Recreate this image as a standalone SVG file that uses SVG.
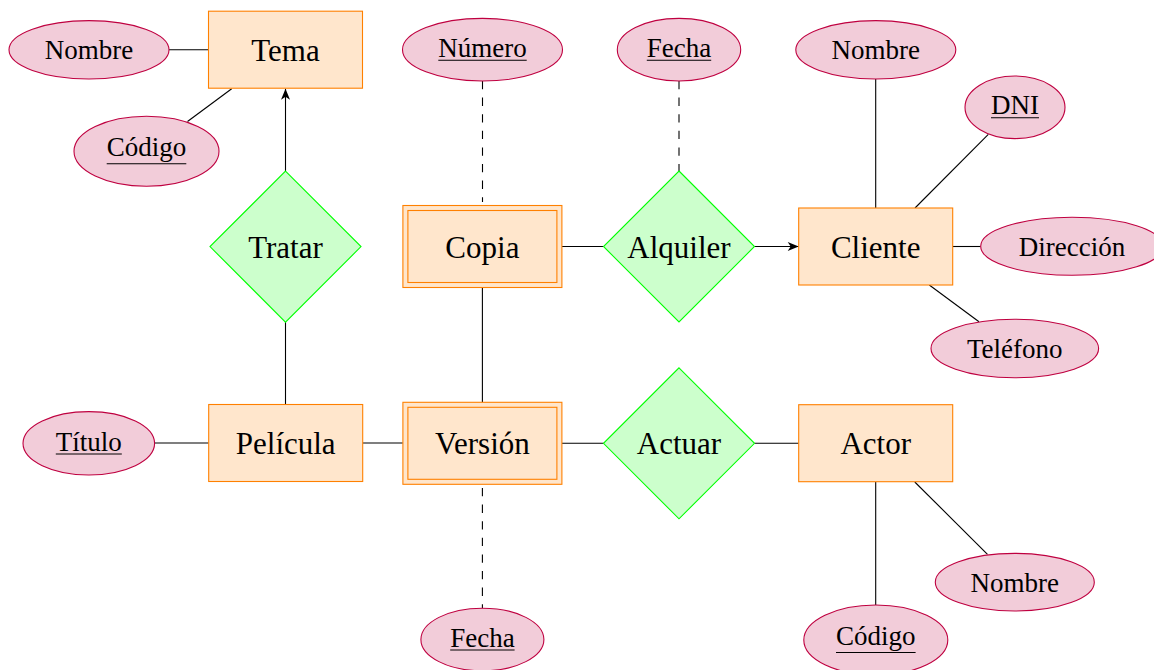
<svg xmlns="http://www.w3.org/2000/svg" width="1154" height="670" viewBox="0 0 1154 670">
<defs>
<style>
.ent rect{fill:#FFE6CC;stroke:#FF8000;stroke-width:1.1}
.rel polygon{fill:#CCFFCC;stroke:#00FF00;stroke-width:1.1}
.att ellipse{fill:#F2CCD9;stroke:#BF0040;stroke-width:1.1}
text{font-family:"Liberation Serif","Times New Roman",serif;fill:#000;text-anchor:middle}
.big{font-size:31px}
.small{font-size:27px}
.ul{stroke:#000;stroke-width:1.1}
#connectors line{stroke:#000;stroke-width:1.1;fill:none}
#connectors .dash{stroke-dasharray:8.3 8.3}
</style>
<marker id="arr" markerUnits="userSpaceOnUse" viewBox="-12 -6 13 12" refX="0" refY="0" markerWidth="13" markerHeight="12" orient="auto">
<path d="M0,0 L-11,-4.5 L-8,0 L-11,4.5 Z" fill="#000"/>
</marker>
</defs>
<rect width="1154" height="670" fill="#fff"/>
<g id="connectors">
<line x1="169" y1="49.8" x2="208.5" y2="49.8"/>
<line x1="187.5" y1="121.5" x2="231.7" y2="88.7"/>
<line x1="285.5" y1="171.1" x2="285.5" y2="88.7" marker-end="url(#arr)"/>
<line x1="285.5" y1="322.1" x2="285.5" y2="404.5"/>
<line class="dash" x1="482.5" y1="81" x2="482.5" y2="202"/>
<line class="dash" x1="679" y1="81" x2="679" y2="171"/>
<line x1="562" y1="246.5" x2="603.5" y2="246.5"/>
<line x1="754.5" y1="246.5" x2="798.7" y2="246.5" marker-end="url(#arr)"/>
<line x1="875.7" y1="79" x2="875.7" y2="208"/>
<line x1="988.3" y1="134.3" x2="915" y2="208"/>
<line x1="952.7" y1="246.5" x2="980.7" y2="246.5"/>
<line x1="929.3" y1="285" x2="979" y2="321.7"/>
<line x1="482.4" y1="287.5" x2="482.4" y2="402.3"/>
<line x1="154.6" y1="443" x2="208.7" y2="443"/>
<line x1="362.7" y1="443" x2="402.9" y2="443"/>
<line class="dash" x1="482.4" y1="488" x2="482.4" y2="608.2"/>
<line x1="562" y1="443.3" x2="603.5" y2="443.3"/>
<line x1="754.5" y1="443.3" x2="798.7" y2="443.3"/>
<line x1="875.7" y1="482" x2="875.7" y2="605"/>
<line x1="914.8" y1="482" x2="987.5" y2="554.3"/>
</g>
<g id="tema" class="ent"><rect x="208.5" y="11.2" width="154" height="77"/><text class="big" x="285.5" y="60.7">Tema</text></g>
<g id="cliente" class="ent"><rect x="798.7" y="208" width="154" height="77"/><text class="big" x="875.7" y="257.5">Cliente</text></g>
<g id="pelicula" class="ent"><rect x="208.7" y="404.5" width="154" height="77"/><text class="big" x="285.7" y="454">Película</text></g>
<g id="actor" class="ent"><rect x="798.7" y="404.7" width="154" height="77"/><text class="big" x="875.7" y="454.2">Actor</text></g>
<g id="copia" class="ent"><rect x="402.9" y="205.5" width="159" height="82"/><rect x="407.9" y="210.5" width="149" height="72"/><text class="big" x="482.4" y="257.5">Copia</text></g>
<g id="version" class="ent"><rect x="402.9" y="402.3" width="159" height="82"/><rect x="407.9" y="407.3" width="149" height="72"/><text class="big" x="482.4" y="454.3">Versión</text></g>
<g id="tratar" class="rel"><polygon points="285.5,171.1 361,246.6 285.5,322.1 210,246.6"/><text class="big" x="285.5" y="257.6">Tratar</text></g>
<g id="alquiler" class="rel"><polygon points="679,171 754.5,246.5 679,322 603.5,246.5"/><text class="big" x="679" y="257.5">Alquiler</text></g>
<g id="actuar" class="rel"><polygon points="679,367.8 754.5,443.3 679,518.8 603.5,443.3"/><text class="big" x="679" y="454.3">Actuar</text></g>
<g id="nombre-tema" class="att"><ellipse cx="89" cy="49.8" rx="80" ry="29.2"/><text class="small" x="89" y="59.3">Nombre</text></g>
<g id="codigo-tema" class="att"><ellipse cx="146.5" cy="151.3" rx="72.5" ry="35"/><text class="small" x="146.5" y="155.8">Código</text><line class="ul" x1="106.7" y1="163.8" x2="186.3" y2="163.8"/></g>
<g id="numero" class="att"><ellipse cx="482.5" cy="49.7" rx="80" ry="31.3"/><text class="small" x="482.5" y="56.7">Número</text><line class="ul" x1="438.3" y1="60.2" x2="526.7" y2="60.2"/></g>
<g id="fecha-alquiler" class="att"><ellipse cx="679" cy="49.7" rx="61.7" ry="31.3"/><text class="small" x="679" y="56.7">Fecha</text><line class="ul" x1="646.8" y1="60.2" x2="711.2" y2="60.2"/></g>
<g id="nombre-cliente" class="att"><ellipse cx="875.8" cy="49.8" rx="80" ry="29.2"/><text class="small" x="875.8" y="59.3">Nombre</text></g>
<g id="dni" class="att"><ellipse cx="1015" cy="107.3" rx="50" ry="31.3"/><text class="small" x="1015" y="114.3">DNI</text><line class="ul" x1="991" y1="117.8" x2="1039" y2="117.8"/></g>
<g id="direccion" class="att"><ellipse cx="1072" cy="246.3" rx="91.3" ry="29"/><text class="small" x="1072" y="255.5">Dirección</text></g>
<g id="telefono" class="att"><ellipse cx="1014.8" cy="348.5" rx="83.8" ry="29.2"/><text class="small" x="1014.8" y="357.7">Teléfono</text></g>
<g id="titulo" class="att"><ellipse cx="88.8" cy="443.3" rx="65.8" ry="31.7"/><text class="small" x="88.8" y="450.5">Título</text><line class="ul" x1="55.8" y1="454" x2="121.8" y2="454"/></g>
<g id="fecha-version" class="att"><ellipse cx="482.4" cy="639.5" rx="61.5" ry="31.3"/><text class="small" x="482.4" y="646.5">Fecha</text><line class="ul" x1="450.2" y1="650" x2="514.6" y2="650"/></g>
<g id="codigo-actor" class="att"><ellipse cx="875.8" cy="640" rx="72" ry="35"/><text class="small" x="875.8" y="644.5">Código</text><line class="ul" x1="836" y1="652.5" x2="915.6" y2="652.5"/></g>
<g id="nombre-actor" class="att"><ellipse cx="1014.8" cy="582.2" rx="79.5" ry="28.8"/><text class="small" x="1014.8" y="591.7">Nombre</text></g>
</svg>
